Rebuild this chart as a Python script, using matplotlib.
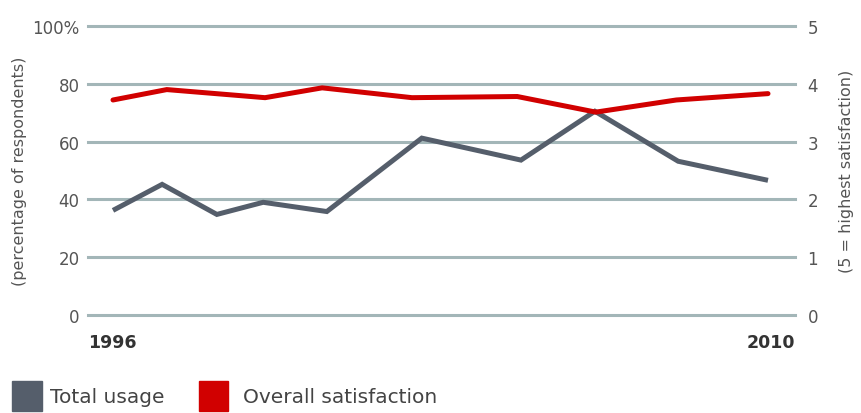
import matplotlib
matplotlib.use("Agg")
import matplotlib.pyplot as plt
from matplotlib.patches import Rectangle

# survey dates (fractional years) and results
usage_years = [1996.0, 1997.05, 1998.22, 1999.21, 2000.57, 2002.6, 2004.72, 2006.3, 2008.08, 2010.0]
usage_pct = [36.2, 45.2, 34.8, 39.0, 35.8, 61.2, 53.6, 70.5, 53.2, 46.6]

satis_years = [1996.0, 1997.15, 1999.25, 2000.47, 2002.39, 2004.64, 2006.32, 2008.04, 2010.0]
satis_score = [3.72, 3.90, 3.76, 3.93, 3.76, 3.78, 3.51, 3.72, 3.83]

left_ticks = [0, 20, 40, 60, 80, 100]
left_labels = ["0", "20", "40", "60", "80", "100%"]
right_ticks = [0, 1, 2, 3, 4, 5]
first_year, last_year = "1996", "2010"

grey = "#555e6b"
red = "#d10000"
grid_col = "#a3b6b8"
text_col = "#555555"

W, H = 861, 414
fig = plt.figure(figsize=(W / 100, H / 100), dpi=100)
ax = fig.add_axes([88 / W, 1 - 316 / H, (795 - 88) / W, (316 - 27) / H])

ax.set_xlim(1996 - 25 / 46.79, 2010 + 27 / 46.79)
ax.set_ylim(0, 100)
for t in left_ticks:
    ax.axhline(t, color=grid_col, lw=2.2, zorder=1, clip_on=False)

ax.plot(usage_years, usage_pct, color=grey, lw=3.6, solid_joinstyle="miter",
        solid_capstyle="butt", zorder=3, clip_on=False)

ax2 = ax.twinx()
ax2.set_ylim(0, 5)
ax2.plot(satis_years, satis_score, color=red, lw=3.6, solid_joinstyle="miter",
         solid_capstyle="round", zorder=4, clip_on=False)

for a in (ax, ax2):
    for s in a.spines.values():
        s.set_visible(False)
    a.set_xticks([])

ax.set_yticks(left_ticks)
ax.set_yticklabels(left_labels)
ax.tick_params(axis="y", length=0, pad=6, labelsize=12, labelcolor=text_col)
ax2.set_yticks(right_ticks)
ax2.tick_params(axis="y", length=0, pad=9, labelsize=12, labelcolor=text_col)

ax.set_ylabel("(percentage of respondents)", fontsize=11.5, color=text_col, labelpad=4)
ax2.set_ylabel("(5 = highest satisfaction)", fontsize=11.5, color=text_col,
               rotation=90, labelpad=15)

ax.text(0, -0.095, first_year, transform=ax.transAxes, ha="left", va="center",
        fontsize=12.5, fontweight="bold", color="#333333")
ax.text(1, -0.095, last_year, transform=ax.transAxes, ha="right", va="center",
        fontsize=12.5, fontweight="bold", color="#333333")

# legend along the bottom edge
fig.patches.append(Rectangle((12 / W, 1 - 412 / H), 30 / W, 30 / H,
                             transform=fig.transFigure, color=grey))
fig.text(50 / W, 1 - 398 / H, "Total usage", fontsize=14.5, color="#444444",
         va="center", ha="left")
fig.patches.append(Rectangle((199 / W, 1 - 412 / H), 29 / W, 30 / H,
                             transform=fig.transFigure, color=red))
fig.text(243 / W, 1 - 398 / H, "Overall satisfaction", fontsize=14.5, color="#444444",
         va="center", ha="left")

fig.savefig("out.png", dpi=100)
